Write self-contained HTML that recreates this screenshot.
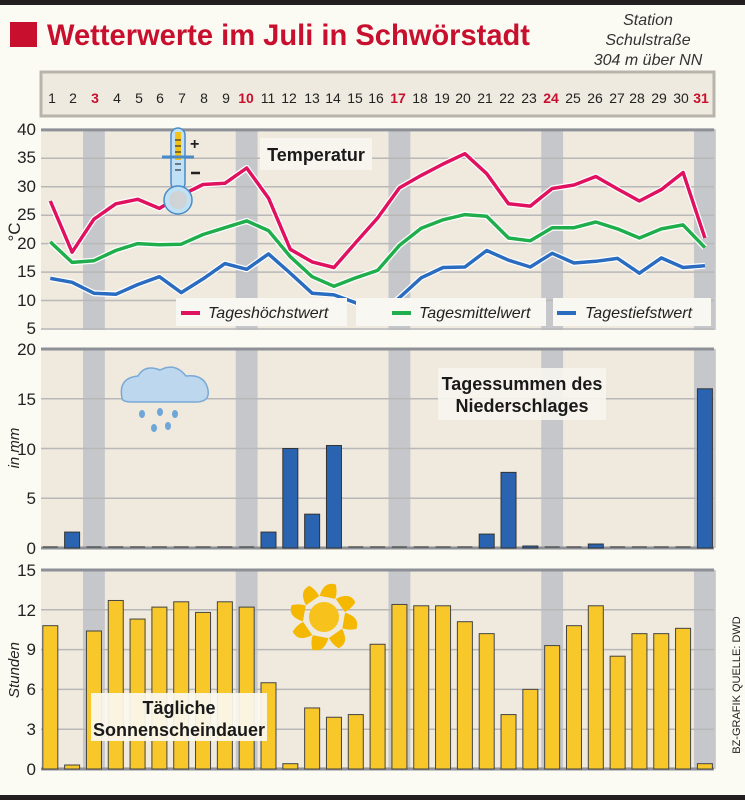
<!DOCTYPE html>
<html><head><meta charset="utf-8"><style>
html,body{margin:0;padding:0;background:#fbfbf4;}
svg{display:block;font-family:"Liberation Sans",sans-serif;}
</style></head><body>
<svg id="s" width="745" height="800" viewBox="0 0 745 800" xmlns="http://www.w3.org/2000/svg">
<rect x="0" y="0" width="745" height="800" fill="#fbfbf4"/>
<rect x="0" y="0" width="745" height="5" fill="#231f20"/>
<rect x="0" y="795" width="745" height="5" fill="#231f20"/>
<rect x="10" y="22" width="27" height="25" fill="#c8102e"/>
<text x="47" y="45" font-size="30" font-weight="bold" fill="#c8102e" textLength="483" lengthAdjust="spacingAndGlyphs">Wetterwerte im Juli in Schwörstadt</text>
<g font-size="16" font-style="italic" fill="#333" text-anchor="middle">
<text x="648" y="25">Station</text>
<text x="648" y="45">Schulstraße</text>
<text x="648" y="65">304 m über NN</text>
</g>
<!-- day bar -->
<rect x="41" y="72" width="673" height="44" fill="#efeadf" stroke="#b9b4ab" stroke-width="3"/>
<g font-size="14" fill="#222" text-anchor="middle" id="days">
<text x="52" y="103">1</text><text x="73" y="103">2</text><text x="95" y="103" fill="#c8102e" font-weight="bold">3</text><text x="117" y="103">4</text><text x="139" y="103">5</text><text x="160" y="103">6</text><text x="182" y="103">7</text><text x="204" y="103">8</text><text x="226" y="103">9</text><text x="246" y="103" fill="#c8102e" font-weight="bold">10</text><text x="268" y="103">11</text><text x="289" y="103">12</text><text x="312" y="103">13</text><text x="333" y="103">14</text><text x="355" y="103">15</text><text x="376" y="103">16</text><text x="398" y="103" fill="#c8102e" font-weight="bold">17</text><text x="420" y="103">18</text><text x="442" y="103">19</text><text x="463" y="103">20</text><text x="485" y="103">21</text><text x="507" y="103">22</text><text x="529" y="103">23</text><text x="551" y="103" fill="#c8102e" font-weight="bold">24</text><text x="573" y="103">25</text><text x="595" y="103">26</text><text x="617" y="103">27</text><text x="637" y="103">28</text><text x="659" y="103">29</text><text x="681" y="103">30</text><text x="701" y="103" fill="#c8102e" font-weight="bold">31</text>
</g>
<g id="panels"></g>
<g font-size="17" fill="#222" text-anchor="end">
<text x="36" y="135">40</text><text x="36" y="163">35</text><text x="36" y="192">30</text><text x="36" y="220">25</text><text x="36" y="249">20</text><text x="36" y="277">15</text><text x="36" y="306">10</text><text x="36" y="334">5</text>
<text x="36" y="355">20</text><text x="36" y="405">15</text><text x="36" y="455">10</text><text x="36" y="504">5</text><text x="36" y="554">0</text>
<text x="36" y="576">15</text><text x="36" y="616">12</text><text x="36" y="655">9</text><text x="36" y="695">6</text><text x="36" y="735">3</text><text x="36" y="775">0</text>
</g>
<text transform="translate(20,232) rotate(-90)" font-size="17" fill="#222" text-anchor="middle">°C</text>
<text transform="translate(19,448) rotate(-90)" font-size="15" font-style="italic" fill="#222" text-anchor="middle">in mm</text>
<text transform="translate(19,670) rotate(-90)" font-size="15" font-style="italic" fill="#222" text-anchor="middle">Stunden</text>
<text transform="translate(740,685) rotate(-90)" font-size="11" fill="#222" text-anchor="middle">BZ-GRAFIK  QUELLE: DWD</text>
<g id="over"></g>
<!-- labels -->
<rect x="260" y="138" width="112" height="32" fill="#f7f5ee"/>
<text x="316" y="161" font-size="18" font-weight="bold" fill="#1a1a1a" text-anchor="middle">Temperatur</text>
<rect x="438" y="368" width="168" height="52" fill="#f7f5ee" opacity="0.9"/>
<text x="522" y="390" font-size="18" font-weight="bold" fill="#1a1a1a" text-anchor="middle">Tagessummen des</text>
<text x="522" y="412" font-size="18" font-weight="bold" fill="#1a1a1a" text-anchor="middle">Niederschlages</text>
<rect x="91" y="693" width="176" height="48" fill="#fbf8ee" opacity="0.93"/>
<text x="179" y="714" font-size="18" font-weight="bold" fill="#1a1a1a" text-anchor="middle">Tägliche</text>
<text x="179" y="736" font-size="18" font-weight="bold" fill="#1a1a1a" text-anchor="middle">Sonnenscheindauer</text>
<!-- legend -->
<rect x="176" y="298" width="171" height="28" fill="#f9f7f1"/>
<rect x="356" y="298" width="190" height="28" fill="#f9f7f1"/>
<rect x="553" y="298" width="158" height="28" fill="#f9f7f1"/>
<line x1="181" y1="313" x2="200" y2="313" stroke="#e0115f" stroke-width="4"/>
<line x1="392" y1="313" x2="411" y2="313" stroke="#1fae4b" stroke-width="4"/>
<line x1="557" y1="313" x2="576" y2="313" stroke="#2a6cc0" stroke-width="4"/>
<g font-size="16" font-style="italic" fill="#222">
<text x="208" y="318">Tageshöchstwert</text>
<text x="419" y="318">Tagesmittelwert</text>
<text x="585" y="318">Tagestiefstwert</text>
</g>
<!-- thermometer -->
<g>
<rect x="171" y="128" width="14" height="62" rx="7" fill="#bfe0f5" stroke="#4a8bc7" stroke-width="1.5"/>
<rect x="175" y="132" width="6" height="28" fill="#f3c21a"/>
<g stroke="#333" stroke-width="1.2"><line x1="175" y1="140" x2="181" y2="140"/><line x1="175" y1="146" x2="181" y2="146"/><line x1="175" y1="152" x2="181" y2="152"/><line x1="175" y1="164" x2="181" y2="164"/><line x1="175" y1="170" x2="181" y2="170"/></g>
<line x1="162" y1="157" x2="194" y2="157" stroke="#4a8bc7" stroke-width="3"/>
<circle cx="178" cy="200" r="14" fill="#bfe0f5" stroke="#4a8bc7" stroke-width="1.5"/>
<circle cx="178" cy="200" r="9" fill="#cfd3d6"/>
<text x="190" y="149" font-size="16" font-weight="bold" fill="#222">+</text>
<line x1="191" y1="173" x2="200" y2="173" stroke="#222" stroke-width="2.5"/>
</g>
<!-- cloud -->
<g>
<path d="M122 398 Q118 378 138 376 Q145 364 160 370 Q175 362 186 376 Q205 374 208 390 Q210 402 196 402 L132 402 Q122 402 122 398Z" fill="#bcd7ee" stroke="#7aa9d6" stroke-width="1.5"/>
<g fill="#6ea6d8"><ellipse cx="142" cy="414" rx="3" ry="4"/><ellipse cx="160" cy="412" rx="3" ry="4"/><ellipse cx="175" cy="414" rx="3" ry="4"/><ellipse cx="154" cy="428" rx="3" ry="4"/><ellipse cx="168" cy="426" rx="3" ry="4"/></g>
</g>
<!-- sun -->
<g fill="#f5b800">
<circle cx="324" cy="617" r="15" fill="#f7c21b"/>
<g id="rays"></g>
</g>
<script>
(function(){
var NS="http://www.w3.org/2000/svg";
function el(p,t,a){var e=document.createElementNS(NS,t);for(var k in a)e.setAttribute(k,a[k]);p.appendChild(e);return e;}
var P=document.getElementById("panels"),O=document.getElementById("over");
var L=41,R=714,W=21.82;
function cx(n){return 50.3+(n-1)*W;}
var panels=[[129,330],[349,548],[570,769]];
panels.forEach(function(p){
 el(P,"rect",{x:L,y:p[0],width:R-L,height:p[1]-p[0],fill:"#efe9de"});
 [3,10,17,24,31].forEach(function(d){el(P,"rect",{x:cx(d)-W/2,y:p[0],width:W,height:p[1]-p[0],fill:"#c5c7ca"});});
});
for(var v=5;v<=40;v+=5){var y=329-(v-5)*5.69;el(P,"line",{x1:L,x2:R,y1:y,y2:y,stroke:v==40?"#8d9096":"#b8b8b8","stroke-width":v==40?3:1.5});}
for(var v=0;v<=20;v+=5){var y=548-v*9.95;el(P,"line",{x1:L,x2:R,y1:y,y2:y,stroke:(v==20||v==0)?"#8d9096":"#b8b8b8","stroke-width":(v==20||v==0)?3:1.5});}
for(var v=0;v<=15;v+=3){var y=769-v*13.27;el(P,"line",{x1:L,x2:R,y1:y,y2:y,stroke:(v==15||v==0)?"#8d9096":"#b8b8b8","stroke-width":(v==15||v==0)?3:1.5});}
var mx=[27.5,18.5,24.3,27,27.8,26.2,28.5,30.4,30.6,33.3,28,19,16.8,15.8,20.2,24.5,29.8,32,34,35.8,32.3,27,26.6,29.7,30.3,31.8,29.6,27.5,29.5,32.5,21];
var me=[20.3,16.7,17,18.8,20,19.8,19.9,21.6,22.8,24,22.3,17.7,14.2,12.5,14,15.3,19.7,22.7,24.2,25.1,24.8,21,20.5,22.8,22.8,23.8,22.6,21,22.6,23.3,19.3];
var mn=[13.9,13.2,11.3,11.1,12.8,14.2,11.4,13.8,16.5,15.5,18.2,14.8,11.3,11,9.6,7.4,10.5,14,15.8,15.9,18.8,17.1,15.9,18.3,16.6,16.9,17.4,14.8,17.5,15.8,16.1];
function line(d,c){var pts=d.map(function(v,i){return cx(i+1).toFixed(1)+","+(329-(v-5)*5.69).toFixed(1);}).join(" ");
 el(O,"polyline",{points:pts,fill:"none",stroke:"#fff","stroke-width":6,"stroke-linejoin":"round"});
 el(O,"polyline",{points:pts,fill:"none",stroke:c,"stroke-width":3.5,"stroke-linejoin":"round"});}
line(mn,"#2a6cc0");line(me,"#1fae4b");line(mx,"#e0115f");
var pr=[0,1.6,0,0,0,0,0,0,0,0,1.6,10,3.4,10.3,0,0,0,0,0,0,1.4,7.6,0.2,0,0,0.4,0,0,0,0,16];
pr.forEach(function(v,i){var x=cx(i+1)-7.5;if(v>0){el(O,"rect",{x:x,y:548-v*9.95,width:15,height:v*9.95,fill:"#2a64b0",stroke:"#333","stroke-width":1});}
 else el(O,"line",{x1:x,x2:x+15,y1:547,y2:547,stroke:"#555","stroke-width":1.5});});
var su=[10.8,0.3,10.4,12.7,11.3,12.2,12.6,11.8,12.6,12.2,6.5,0.4,4.6,3.9,4.1,9.4,12.4,12.3,12.3,11.1,10.2,4.1,6.0,9.3,10.8,12.3,8.5,10.2,10.2,10.6,0.4];
su.forEach(function(v,i){var x=cx(i+1)-7.5;el(O,"rect",{x:x,y:769-v*13.27,width:15,height:v*13.27,fill:"#f8c82a",stroke:"#444","stroke-width":1});});
var r=document.getElementById("rays");
for(var k=0;k<8;k++){var a=k*45+10;el(r,"path",{d:"M-8,-20 Q-6,-36 6,-34 Q9,-27 8,-20 Z",transform:"translate(324,617) rotate("+a+")",fill:"#f5b800"});}
})();
</script>
</svg>
</body></html>
